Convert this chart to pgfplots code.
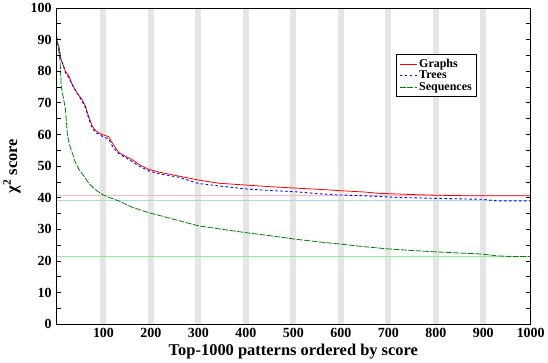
\documentclass[border=0pt]{standalone}
\usepackage{pgfplots}
\pgfplotsset{compat=1.18}
\usepackage{fontspec}
\setmainfont{Liberation Serif}
\definecolor{refpink}{RGB}{255,182,193}
\definecolor{refblue}{RGB}{173,216,230}
\definecolor{refgreen}{RGB}{144,238,144}
\definecolor{seqgreen}{RGB}{0,128,0}

\begin{document}
\begin{tikzpicture}
\begin{axis}[
  scale only axis,
  width=476pt, height=317pt,
  xmin=0, xmax=1000, ymin=0, ymax=100,
  xtick={100,200,...,1000},
  ytick={0,10,...,100},
  minor y tick num=1,
  major x tick style={draw=none},
  tick align=inside,
  axis on top,
  axis line style={line width=1pt},
  every tick/.style={black, line width=0.8pt},
  major tick length=5pt, minor tick length=5pt,
  tick label style={font=\fontsize{14}{16}\selectfont\bfseries},
  xticklabel style={yshift=-1pt},
  yticklabel style={xshift=-1pt},
  /pgf/number format/assume math mode=true,
  /pgf/number format/1000 sep={},
  xlabel={\fontsize{16.5}{18}\selectfont\bfseries Top-1000 patterns ordered by score},
  ylabel={\fontsize{16.5}{18}\selectfont\bfseries χ\textsuperscript{2} score},
  xlabel style={yshift=1pt},
  ylabel style={yshift=3pt},
  legend style={at={(0.716,0.855)}, anchor=north west, draw=black, line width=0.8pt,
    font=\fontsize{12}{14}\selectfont\bfseries, inner sep=3pt, row sep=-2pt},
  legend cell align=left,
  clip=true,
]
% grey bands
\addplot[ycomb, gray!20, line width=6pt, no marks, forget plot]
  coordinates {(100,100) (200,100) (300,100) (400,100) (500,100) (600,100) (700,100) (800,100) (900,100)};
% reference lines
\addplot[refpink, line width=0.8pt, forget plot] coordinates {(0,40.6) (1000,40.6)};
\addplot[refblue, line width=0.8pt, forget plot] coordinates {(0,39.0) (1000,39.0)};
\addplot[refgreen, line width=0.8pt, forget plot] coordinates {(0,21.4) (1000,21.4)};

\addplot[red, line width=0.8pt] coordinates {
 (1,90) (3,89) (6,88) (10,84) (15,82) (20,80) (27,78.5) (35,75.5) (45,73) (55,71)
 (62,69) (68,66) (76,62.7) (85,61) (97,60) (111,59.3) (120,57) (132,54.3) (145,53.2)
 (160,52.1) (175,50.5) (195,49) (220,48) (260,46.8) (300,45.6) (342,44.6) (400,44.0)
 (450,43.5) (510,43.0) (560,42.6) (601,42.2) (650,41.8) (679,41.4) (750,41.0)
 (798,40.8) (874,40.6) (1000,40.6)};
\addlegendentry{Graphs}

\addplot[blue, line width=0.9pt, dash pattern=on 2.5pt off 2.5pt] coordinates {
 (1,89) (3,88.5) (6,87.5) (10,84) (15,82) (20,79.5) (27,78) (35,75.5) (45,73) (55,70.5)
 (62,68.5) (68,65.5) (76,62) (85,60.5) (97,59.5) (111,58.5) (120,56) (132,54) (145,52.8)
 (160,51.5) (175,50) (195,48.5) (220,47.5) (258,46.5) (300,44.5) (350,43.6) (405,42.7)
 (450,42.3) (503,41.9) (550,41.3) (594,40.9) (650,40.6) (720,40.1) (800,39.8)
 (896,39.5) (930,39.0) (1000,39.0)};
\addlegendentry{Trees}

\addplot[seqgreen, line width=0.8pt, dash pattern=on 6pt off 1.5pt] coordinates {
 (0,92) (3,90) (5,87) (8.4,83.7) (11,75.3) (15,72) (20,67.9) (24,60) (28,57) (34,54.3)
 (40,51.5) (48,49) (58,47) (68,44.8) (76,43.5) (85,42.3) (97,41.1) (110,40.2) (132,39)
 (160,37) (195,35.3) (240,33.5) (300,31.1) (350,30) (398,29) (450,28) (503,26.9)
 (550,26.1) (601,25.3) (650,24.5) (700,23.8) (750,23.3) (797,22.9) (850,22.5)
 (895,22.2) (930,21.6) (960,21.4) (1000,21.4)};
\addlegendentry{Sequences}
\end{axis}
\end{tikzpicture}
\end{document}
